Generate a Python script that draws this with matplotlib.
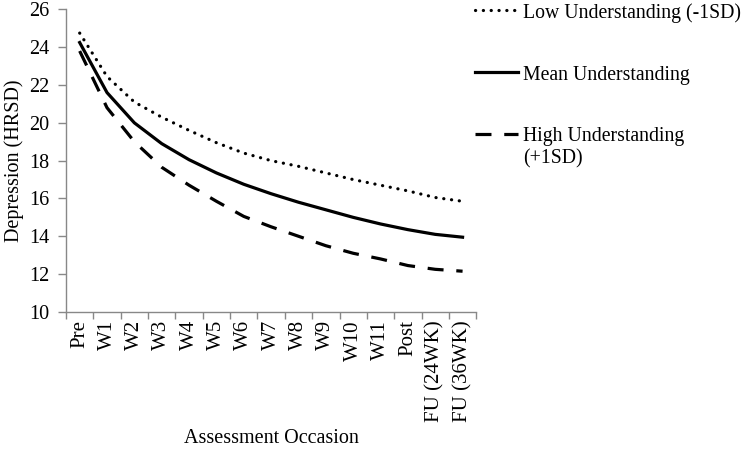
import matplotlib
matplotlib.use("Agg")
import matplotlib.pyplot as plt
from matplotlib.offsetbox import HPacker
import numpy as np

occasions = ["Pre", "W1", "W2", "W3", "W4", "W5", "W6", "W7", "W8", "W9",
             "W10", "W11", "Post", "FU (24WK)", "FU (36WK)"]
low = [24.75, 22.45, 21.1, 20.3, 19.6, 18.95, 18.4, 18.0, 17.7, 17.35,
       17.0, 16.7, 16.4, 16.05, 15.85]
mean = [24.25, 21.6, 20.0, 18.9, 18.05, 17.35, 16.75, 16.25, 15.8, 15.4,
        15.0, 14.65, 14.35, 14.1, 13.95]
high = [23.8, 20.8, 19.0, 17.65, 16.7, 15.85, 15.05, 14.5, 14.0, 13.5,
        13.1, 12.8, 12.45, 12.25, 12.15]
yticks = [10, 12, 14, 16, 18, 20, 22, 24, 26]

plt.rcParams['font.family'] = ['Liberation Serif', 'DejaVu Serif']
fig = plt.figure(figsize=(7.5, 4.5), dpi=100)
ax = fig.add_axes([0.088, 0.307, 0.547, 0.672])

x = np.arange(len(occasions))
lw = 2.3
ax.plot(x, low, color='black', lw=lw, linestyle=(0, (0.05, 2.4)),
        dash_capstyle='round', label='Low Understanding (-1SD)')
ax.plot(x, mean, color='black', lw=lw, linestyle='-',
        label='Mean Understanding')
ax.plot(x, high, color='black', lw=lw, linestyle=(0, (5, 4)),
        dash_capstyle='butt', label='High Understanding\n(+1SD)')

ax.set_xlim(-0.5, len(occasions) - 0.5)
ax.set_ylim(10, 26)
ax.set_yticks(yticks)
ax.set_xticks(x)
ax.set_xticklabels(occasions, rotation=90, fontsize=15)
ax.set_xticks(np.arange(-0.5, len(occasions), 1), minor=True)
ax.tick_params(axis='x', which='major', length=0, pad=6)
ax.tick_params(axis='x', which='minor', length=5, color='#888888', width=1)
ax.tick_params(axis='y', length=6, color='#888888', width=1, labelsize=14.5, pad=6)

for s in ['top', 'right']:
    ax.spines[s].set_visible(False)
for s in ['left', 'bottom']:
    ax.spines[s].set_color('#888888')
    ax.spines[s].set_linewidth(1)

ax.set_ylabel('Depression (HRSD)', fontsize=14.5, labelpad=4)
ax.set_xlabel('Assessment Occasion', fontsize=14.5, labelpad=5)

leg = ax.legend(loc='upper left', bbox_to_anchor=(0.6225, 1.01),
                bbox_transform=fig.transFigure, frameon=False, fontsize=14.2,
                handlelength=2.2, handletextpad=0.25, labelspacing=2.15,
                borderaxespad=0)
for hp in leg.findobj(HPacker):
    hp.align = 'top'

fig.savefig('out.png', dpi=100)
